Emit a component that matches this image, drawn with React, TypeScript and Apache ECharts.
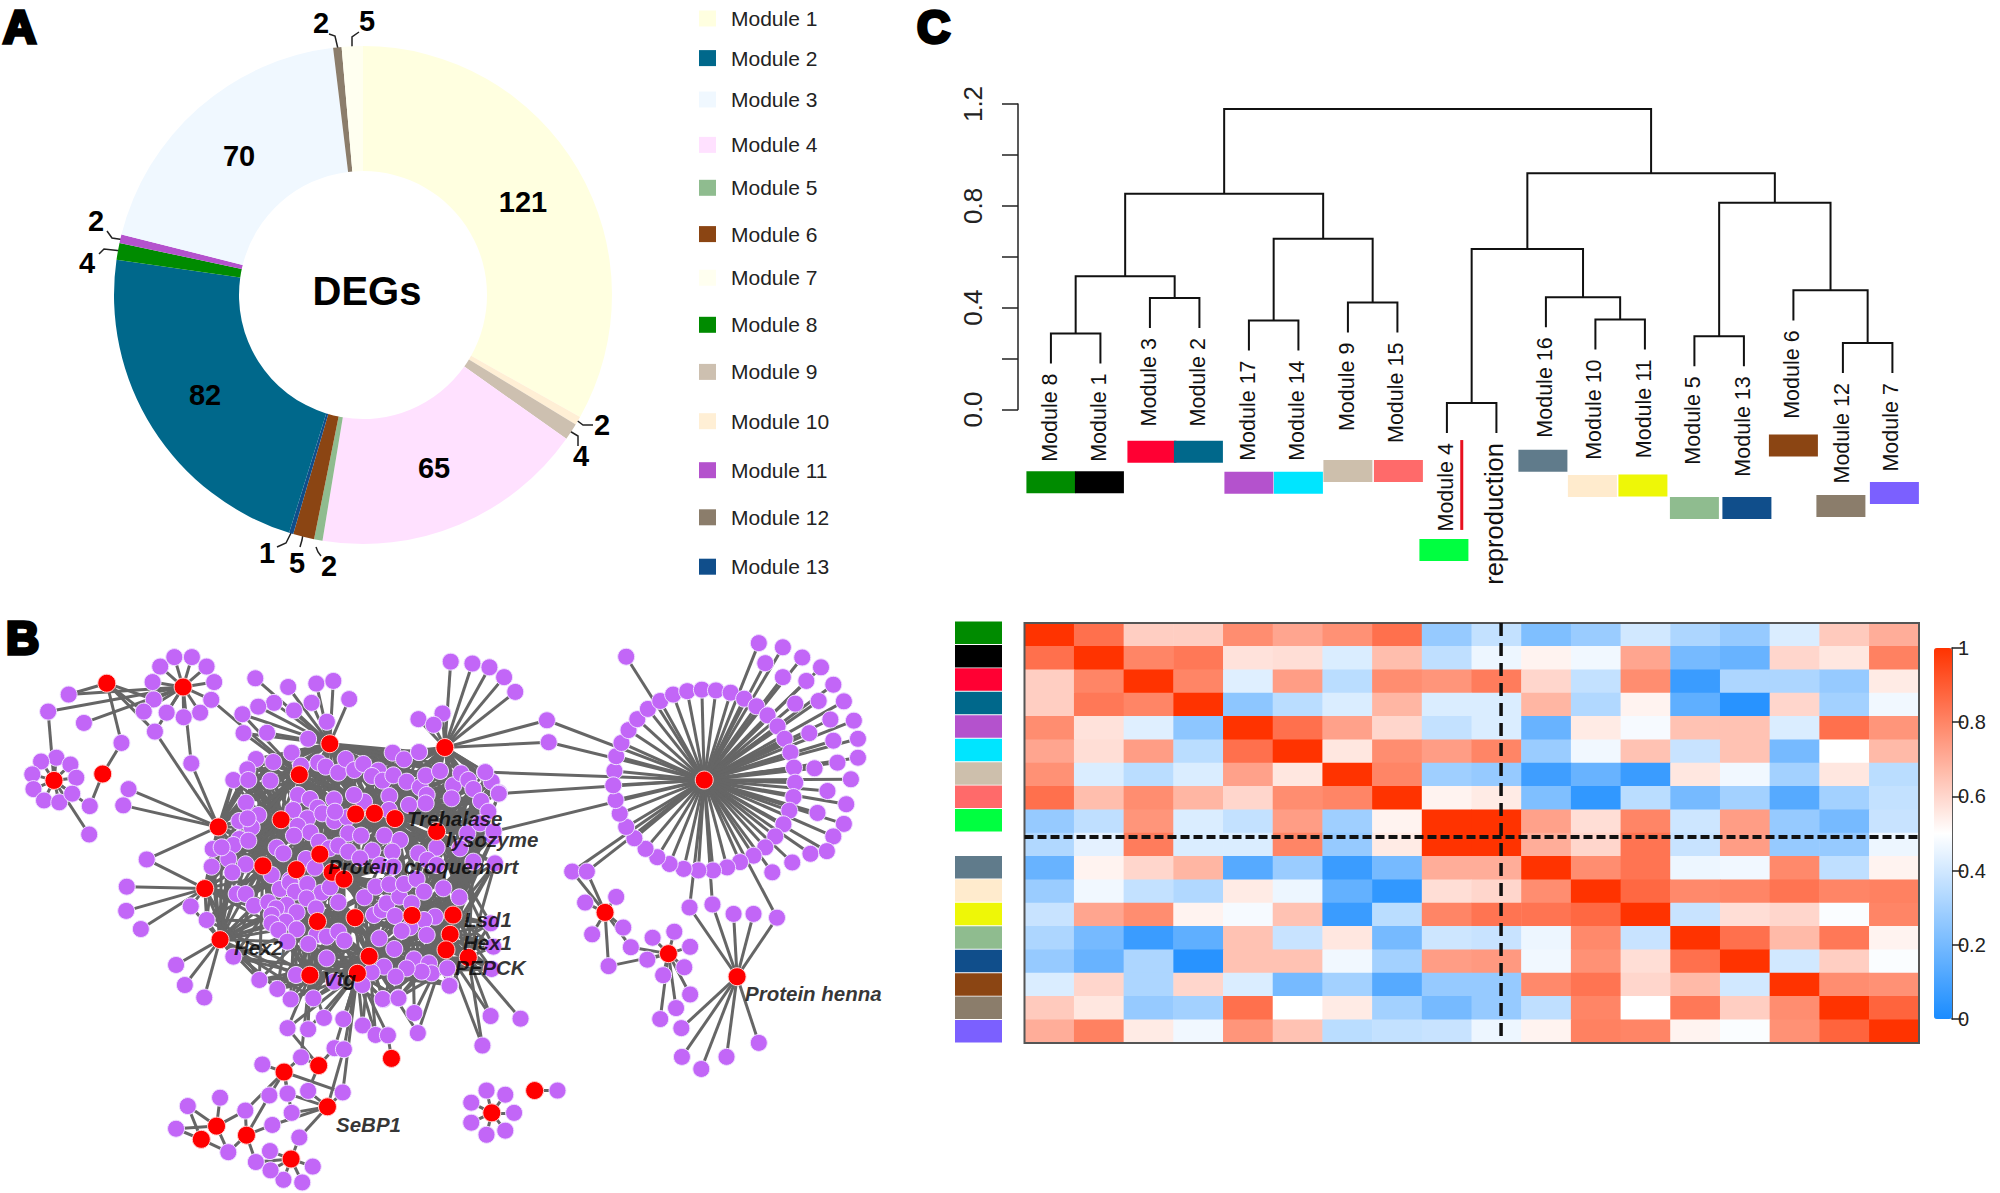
import React, { useEffect, useRef } from "react";
import * as echarts from "echarts";

const FONT = "'Liberation Sans', Arial, sans-serif";

// ---------- A: donut ----------
const pieModules = ["Module 1","Module 10","Module 9","Module 4","Module 5","Module 6","Module 13","Module 2","Module 8","Module 11","Module 3","Module 12","Module 7"];
const pieValues = [121,2,4,65,2,5,1,82,4,2,70,2,5];
const legendNames = ["Module 1","Module 2","Module 3","Module 4","Module 5","Module 6","Module 7","Module 8","Module 9","Module 10","Module 11","Module 12","Module 13"];
const legendColors = ["#FFFFE0","#00688B","#F0F8FF","#FFE1FF","#8FBC8F","#8B4513","#FFFFF0","#008B00","#CDC0B0","#FFEFD5","#B452CD","#8B7D6B","#104E8B"];
const legendCenters = [19,58.6,100,145.4,188.3,234.6,278.2,325.3,372.4,421.7,470.7,517.8,567.2];
// label anchor [x,y] and leader line per slice, in page pixels
const pieLabelAt = [[523,202],[602,425],[581,456],[434,468],[329,566],[297,563],[267,553],[205,395],[87,263],[96,221],[239,156],[321,23],[367,21]];
const pieLeaders: any[] = [null,[[575,419],[583,425],[593,425]],[[568,430],[578,436],[578,446]],null,[[316,547],[318,552],[321,556]],[[303,534],[302,540],[300,547]],[[291,533],[286,543],[277,547]],null,[[122,251],[104,249],[99,254]],[[125,240],[112,238],[107,231]],null,[[338,49],[335,36],[329,34]],[[352,50],[352,37],[359,32]]];

// ---------- B: network ----------
const hubs = [[92,477],[175,460],[182,220],[312,230],[372,600],[349,763],[375,898],[562,380],[758,390],[510,462],[479,581],[606,566],[638,564],[673,578],[744,612],[545,672],[448,703],[505,713],[566,720],[586,738],[541,850],[605,840],[702,834],[772,833],[767,884],[760,925],[798,945],[629,942],[609,987],[528,992],[667,1212],[543,1231],[484,1248],[558,1340],[369,1391],[343,1426],[420,1415],[496,1478],[838,1356],[911,1297],[1200,476],[1031,826],[1139,935],[1256,996]];
const clusterHubFirst = 4, clusterHubLast = 29;
const clusterTop = [[168,57],[220,66],[275,38],[303,77],[355,68],[377,80],[415,98],[437,57],[463,90],[490,72],[535,92],[516,108],[548,122],[578,38],[612,58],[657,36],[580,106],[620,125],[660,142],[677,107],[720,93],[760,136],[783,100],[805,120],[820,147],[855,97],[875,125],[897,158],[680,165],[755,175],[843,183],[865,215],[677,190],[627,195],[568,168],[567,210],[492,185],[462,165],[402,178],[294,165],[330,177],[353,203],[280,210],[138,188],[142,88],[100,120],[145,120],[211,122],[175,225],[118,243],[155,262],[143,235],[322,235],[293,258],[331,277],[282,287],[367,220],[403,243],[442,232],[405,215],[445,280],[483,287],[553,287],[600,300],[710,323],[802,280],[880,290],[840,250],[118,297],[100,315],[145,302],[38,327],[85,357],[137,373],[97,397],[35,380],[65,322],[230,323],[250,340],[318,357],[345,383],[357,305],[388,325],[415,317],[445,335],[517,332],[577,335],[655,340],[682,360],[710,375],[780,325],[820,365],[885,370],[480,355],[215,405],[270,420],[540,375],[580,380]];
const clusterBottom = [[110,72],[137,72],[162,107],[205,97],[240,57],[270,38],[285,65],[322,42],[365,68],[390,52],[320,85],[260,105],[228,115],[215,135],[290,127],[257,155],[215,160],[235,180],[290,178],[262,215],[348,115],[350,195],[380,200],[415,185],[433,212],[325,222],[380,265],[415,97],[493,82],[522,135],[545,120],[560,100],[585,138],[598,80],[635,100],[527,50],[568,43],[612,42],[650,27],[672,65],[730,55],[778,82],[705,140],[672,150],[630,172],[605,183],[680,195],[538,205],[583,237],[642,268],[687,280],[695,310],[665,305],[620,295],[552,290],[587,320],[515,307],[742,295],[750,345],[288,315],[20,150],[100,260],[178,330],[232,357],[272,388],[340,385],[487,345],[402,335],[550,388],[595,383],[872,160],[880,230],[875,297]];
// [x, y, ...hub indexes]
const outerLeaves = [
[96,417,0],[120,435,0],[70,427,0],[55,461,0],[130,470,0],[57,500,0],[75,530,0],[101,535,0],[123,512,0],[82,295,3,0],[117,250,2,3],[143,325,3],[207,378,2,1],[153,545,1,0],[152,620,0],
[273,176,3],[297,151,3],[327,151,3],[352,176,3],[365,217,3],[360,264,3,9],[341,298,3],[313,310,3],[284,298,3],[262,263,3,2],[260,217,3],[245,295,2,3],[264,348,3,4,2],[326,432,3,4],
[219,500,4],[210,543,4],[250,686,4,5],[216,758,5],[215,822,5],[240,870,5],[325,810,5,6],[300,965,6],[315,1018,6],[348,1051,6],
[435,207,7],[491,230,7],[539,221,7],[568,214,7],[595,262,7],[467,272,7],[531,272,7],[440,282,7],[501,292,7],[413,302,7,9],[557,322,7],[415,352,7,9],[455,351,7],[525,367,7],
[768,163,8],[805,168,8],[834,178,8],[859,204,8],[878,243,8],[713,315,8],[754,300,8],[739,330,8],[932,318,8,40],[935,376,8,40],[714,402,8],[827,455,8,40],[850,512,8,40],[841,612,14,40],
[836,1100,26,25],[887,1107,26],[822,1178,26,25],[766,1020,25,26],[652,1055,28,25],[679,1053,28,22],[706,1092,25,22],[712,1145,25,27],[552,1105,28,29],[585,1108,28,27],[525,1135,29,28],[618,1125,28,27],[490,1132,29,28,31],[640,1150,28,27],[661,1151,28,30],[570,1185,28,31],[586,1188,28,33],[513,1209,29,31,32],
[447,1228,32],[459,1310,32,36],[490,1305,32,33],[418,1350,32,34,36],[584,1302,32,33,28],[525,1298,33,31],[497,1356,33,32],[464,1388,33,36],[510,1421,33,37],[320,1338,34,35],[375,1316,34],[300,1398,34,35],[389,1460,34,36,35],[436,1486,36,37],[460,1457,37],[533,1498,37],[515,1540,37],[483,1533,37],[461,1508,37],
[829,1297,38],[861,1308,38],[876,1356,38],[861,1403,38],[829,1414,38],[803,1382,38],[803,1329,38],[950,1297,39],
[975,718,40,41],[1000,718,40,41],[997,800,41],[1050,785,41],[1009,884,41],[1062,866,41],[1075,918,41,42],[1037,968,41,42],[1112,893,42],[1149,877,42],[1176,917,42],[1103,951,42],[1166,971,42],[1130,992,42],[1176,1043,42],[1152,1079,42],[1125,1108,42],
[1175,813,40,43],[1214,805,40,43],[1250,830,43],[1284,830,43],[1324,840,43,40],[1161,1132,43],[1162,1208,43],[1195,1240,43],[1238,1208,43],[1293,1171,43]];
const ringLeaves = [[1047,452],[1050,413],[1059,378],[1071,344],[1086,315],[1104,288],[1125,267],[1147,250],[1171,241],[1196,237],[1220,239],[1245,245],[1268,261],[1289,281],[1308,305],[1325,334],[1337,367],[1347,403],[1353,443],[1355,483],[1352,521],[1345,557],[1335,593],[1321,625],[1304,654],[1284,676],[1261,693],[1239,707],[1215,715],[1190,715],[1165,711],[1141,698],[1120,680],[1100,658],[1081,630],[1067,600],[1056,565],[1049,529],[1045,490],
[1067,150],[1293,114],[1334,125],[1367,152],[1399,178],[1304,167],[1334,204],[1374,214],[1420,224],[1355,274],[1395,267],[1438,268],[1415,316],[1455,319],[1379,352],[1420,372],[1462,367],[1427,430],[1388,445],[1462,417],[1450,474],[1410,505],[1442,540],[1393,563],[1438,592],[1420,625],[1350,694],[1381,671],[1409,664],[1316,720]];
const ringHub = 40;
const networkLabels = [["Trehalase",407,818],["lysozyme",446,839],["Protein croquemort",328,866],["Lsd1",464,919],["Hex1",463,942],["PEPCK",455,967],["Hex2",234,947],["Vtg",323,978],["SeBP1",336,1124],["Protein henna",745,993]];
const overview = (p: number[]) => [p[0] / 1.704, 600 + p[1] / 2.644];

// ---------- C: dendrogram ----------
const leafNames = ["Module 8","Module 1","Module 3","Module 2","Module 17","Module 14","Module 9","Module 15","Module 4","reproduction","Module 16","Module 10","Module 11","Module 5","Module 13","Module 6","Module 12","Module 7"];
const leafColors = ["#008B00","#000000","#FF0033","#00688B","#B452CD","#00E5FF","#CDBFAC","#FF6A6A","#00FF40","#FFFFFF","#607B8B","#FFEBCD","#EEF707","#8FBC8F","#104E8B","#8B4513","#8B7D6B","#7B60FF"];
// [left, right, height]: a child >= 0 is a leaf, a child < 0 is merge ~child
const merges = [[0,1,.299],[2,3,.438],[~0,~1,.523],[4,5,.35],[6,7,.42],[~3,~4,.671],[~2,~5,.847],[8,9,.0255],[11,12,.354],[10,~8,.441],[~7,~9,.63],[13,14,.288],[16,17,.261],[15,~12,.468],[~11,~13,.812],[~10,~14,.928],[~6,~15,1.18]];
const leafHang = 0.118;
const swatchTops = [-.243,-.243,-.123,-.123,-.245,-.245,-.198,-.198,-.509,null,-.158,-.257,-.255,-.344,-.344,-.098,-.336,-.285];
const swatchShift = [0,-1,2,-1,0,0,0,1,-3,0,-3,-3,-2,0,3,0,-2,2];

// ---------- heat map ----------
const heatRows = [
[1,.85,.62,.62,.78,.72,.77,.85,.27,.37,.22,.28,.4,.32,.27,.42,.63,.7],
[.85,1,.8,.83,.57,.58,.42,.66,.36,.46,.53,.47,.72,.2,.17,.6,.56,.81],
[.62,.8,1,.8,.43,.74,.35,.78,.76,.82,.6,.37,.78,.07,.32,.32,.27,.55],
[.62,.83,.8,1,.25,.35,.42,.68,.42,.42,.68,.33,.53,.15,.03,.6,.3,.47],
[.78,.57,.43,.25,1,.85,.73,.6,.37,.42,.17,.55,.48,.65,.65,.42,.85,.76],
[.72,.58,.74,.35,.85,1,.56,.78,.74,.8,.28,.47,.65,.38,.65,.2,.5,.67],
[.77,.42,.35,.42,.73,.56,1,.8,.29,.27,.08,.17,.07,.56,.47,.3,.56,.35],
[.85,.66,.78,.68,.6,.78,.8,1,.53,.55,.22,.05,.35,.2,.3,.13,.3,.37],
[.27,.36,.76,.42,.37,.74,.29,.53,1,1,.73,.58,.8,.39,.74,.27,.2,.38],
[.33,.44,.82,.42,.42,.8,.27,.55,1,1,.7,.6,.84,.38,.74,.27,.27,.46],
[.17,.53,.6,.68,.13,.28,.07,.2,.7,.7,1,.78,.84,.46,.47,.79,.36,.53],
[.28,.47,.37,.33,.55,.46,.16,.05,.58,.6,.78,1,.87,.79,.8,.84,.8,.81],
[.38,.72,.78,.53,.48,.65,.07,.35,.8,.84,.84,.87,1,.38,.58,.6,.49,.8],
[.32,.2,.07,.15,.65,.38,.56,.2,.39,.38,.46,.79,.38,1,.85,.67,.83,.53],
[.27,.17,.32,.03,.65,.65,.47,.3,.74,.75,.47,.77,.58,.85,1,.4,.62,.49],
[.42,.6,.32,.6,.42,.2,.3,.13,.27,.27,.79,.84,.6,.67,.4,1,.78,.77],
[.63,.56,.27,.3,.85,.5,.55,.3,.2,.27,.36,.8,.5,.83,.62,.78,1,.88],
[.7,.81,.55,.47,.76,.65,.35,.37,.38,.46,.53,.81,.8,.53,.49,.77,.88,1]];
const heatColLine = 9.59, heatRowLine = 9.17;

function buildNetwork() {
  const hubPts = hubs.map(overview);
  const cluster = [
    ...clusterTop.map(([x, y]) => [200 + x / 3, 740 + y / 3]),
    ...clusterBottom.map(([x, y]) => [200 + x / 3, 870 + y / 3]),
  ];
  const nodes: any[] = [];
  const links: any[] = [];
  const total = cluster.length + outerLeaves.length + ringLeaves.length;
  const add = (p: number[], hubIdx: number[]) => {
    const id = nodes.length;
    nodes.push({ value: p, symbolSize: 17, itemStyle: { color: "#C266F7", borderColor: "#F0E0FF", borderWidth: 1 } });
    hubIdx.forEach((h) => links.push({ source: id, target: total + h }));
  };
  cluster.forEach((p) => {
    const near = [];
    for (let h = clusterHubFirst; h <= clusterHubLast; h++) near.push([Math.hypot(hubPts[h][0] - p[0], hubPts[h][1] - p[1]), h]);
    near.sort((a, b) => a[0] - b[0]);
    add(p, near.slice(0, 7).map((n) => n[1]));
  });
  outerLeaves.forEach((l) => add(overview(l), l.slice(2)));
  ringLeaves.forEach((l) => add(overview(l), [ringHub]));
  hubPts.forEach((p) => nodes.push({ value: p, symbolSize: 18, itemStyle: { color: "#FF0000", borderColor: "#FFD0D0", borderWidth: 1 } }));
  return { nodes, links };
}

function buildDendrogram() {
  const centers: number[] = [];
  const rows = merges.map((m, i) => {
    const [a, b, h] = m;
    const xa = a >= 0 ? a : centers[~a];
    const xb = b >= 0 ? b : centers[~b];
    const lowA = a >= 0 ? h - leafHang : merges[~a][2];
    const lowB = b >= 0 ? h - leafHang : merges[~b][2];
    centers[i] = (xa + xb) / 2;
    return [xa, lowA, xb, lowB, h];
  });
  const leafEnd: number[] = [];
  merges.forEach(([a, b, h]) => {
    if (a >= 0) leafEnd[a] = h - leafHang;
    if (b >= 0) leafEnd[b] = h - leafHang;
  });
  return { rows, leafEnd };
}

export default function App() {
  const ref = useRef<HTMLDivElement>(null);
  useEffect(() => {
    document.body.style.margin = "0";
    const chart = echarts.init(ref.current!, null, { renderer: "svg" });
    const net = buildNetwork();
    const den = buildDendrogram();
    const colorOf = (n: string) => legendColors[legendNames.indexOf(n)];
    const hidden = { show: false };
    const option: any = {
      animation: false,
      backgroundColor: "#fff",
      textStyle: { fontFamily: FONT },
      legend: legendNames.map((n, i) => ({
        data: [n], orient: "vertical", left: 699, top: legendCenters[i] - 11, padding: 0,
        itemWidth: 17, itemHeight: 16, icon: "rect", selectedMode: false,
        textStyle: { fontFamily: FONT, fontSize: 21, color: "#222", padding: [0, 0, 0, 10] },
      })),
      grid: [
        { left: 0, top: 600, width: 920, height: 593 },
        { left: 1018, top: 104, width: 874.4, height: 305.5 },
        { left: 1024.5, top: 623, width: 894.5, height: 420, show: true, borderColor: "#555", borderWidth: 2, backgroundColor: "transparent", z: 6 },
        { left: 955, top: 621, width: 47, height: 422 },
        { left: 1934, top: 648, width: 18, height: 371 },
      ],
      xAxis: [
        { gridIndex: 0, type: "value", min: 0, max: 920, ...hidden },
        { gridIndex: 1, type: "value", min: -0.665, max: 17, ...hidden },
        { gridIndex: 2, type: "category", data: leafNames, ...hidden },
        { gridIndex: 2, type: "value", min: 0, max: 18, ...hidden },
        { gridIndex: 3, type: "value", min: 0, max: 1, ...hidden },
        { gridIndex: 4, type: "value", min: 0, max: 1, ...hidden },
      ],
      yAxis: [
        { gridIndex: 0, type: "value", min: 600, max: 1193, inverse: true, ...hidden },
        {
          gridIndex: 1, type: "value", min: 0, max: 1.2, interval: 0.2, position: "left",
          axisLine: { show: true, onZero: false, lineStyle: { color: "#222", width: 1.5 } },
          axisTick: { show: true, length: 16, lineStyle: { color: "#222", width: 1.5 } },
          splitLine: { show: false },
          axisLabel: {
            rotate: 90, margin: 32, fontSize: 26, color: "#222", fontFamily: FONT,
            formatter: (v: number) => (Math.round(v * 10) % 4 === 0 ? v.toFixed(1) : ""),
          },
        },
        { gridIndex: 2, type: "category", inverse: true, data: leafNames, ...hidden },
        { gridIndex: 2, type: "value", inverse: true, min: 0, max: 18, ...hidden },
        { gridIndex: 3, type: "category", inverse: true, data: leafNames, ...hidden },
        {
          gridIndex: 4, type: "value", min: 0, max: 1, interval: 0.2, position: "right",
          axisLine: { show: true, onZero: false, lineStyle: { color: "#222", width: 1.5 } },
          axisTick: { show: true, length: 12, lineStyle: { color: "#222", width: 1.5 } },
          splitLine: { show: false },
          axisLabel: { margin: 6, fontSize: 20, color: "#222", fontFamily: FONT, formatter: (v: number) => String(Math.round(v * 10) / 10) },
        },
      ],
      visualMap: {
        type: "continuous", seriesIndex: 0, dimension: 2, min: 0, max: 1, left: 1934, top: 648, padding: 0,
        itemWidth: 18, itemHeight: 371, calculable: false, hoverLink: false, realtime: false,
        inRange: { color: ["#1A8CFF", "#FFFFFF", "#FF3300"] }, text: undefined, showLabel: false,
      },
      graphic: [
        ["A", 3, 4], ["B", 6, 615], ["C", 917, 4],
      ].map(([t, x, y]) => ({
        type: "text", x, y,
        style: { text: t, fontFamily: FONT, fontWeight: "bold", fontSize: 46, fill: "#000", stroke: "#000", lineWidth: 3.5, textVerticalAlign: "top" },
      })).concat([
        { type: "text", x: 367, y: 291, z: 20, style: { text: "DEGs", fontFamily: FONT, fontWeight: "bold", fontSize: 40, fill: "#000", textAlign: "center", textVerticalAlign: "middle" } } as any,
      ]),
      series: [
        {
          type: "heatmap", xAxisIndex: 2, yAxisIndex: 2, z: 2, progressive: 0,
          data: heatRows.flatMap((row, r) => row.map((v, c) => [c, r, v])),
        },
        {
          type: "line", xAxisIndex: 3, yAxisIndex: 3, z: 7, symbol: "none", clip: false, silent: true,
          data: [[heatColLine, 0], [heatColLine, 18]],
          lineStyle: { color: "#111", width: 3.5, type: [13, 7] },
        },
        {
          type: "line", xAxisIndex: 3, yAxisIndex: 3, z: 7, symbol: "none", clip: false, silent: true,
          data: [[0, heatRowLine], [18, heatRowLine]],
          lineStyle: { color: "#111", width: 4, type: [9, 4] },
        },
        {
          type: "bar", xAxisIndex: 4, yAxisIndex: 4, barWidth: "96%", silent: true,
          data: leafColors.map((c) => ({ value: 1, itemStyle: { color: c } })),
        },
        {
          type: "pie", center: [363, 295], radius: [124, 249], startAngle: 90, clockwise: true,
          avoidLabelOverlap: false, silent: true,
          data: pieModules.map((n, i) => ({
            name: n, value: pieValues[i], itemStyle: { color: colorOf(n) },
            labelLine: { show: !!pieLeaders[i] },
          })),
          label: { show: true, position: "outside", formatter: "{c}", fontFamily: FONT, fontWeight: "bold", fontSize: 29, color: "#000" },
          labelLine: { show: true, lineStyle: { color: "#222", width: 1.5 } },
          labelLayout: (p: any) => ({
            x: pieLabelAt[p.dataIndex][0], y: pieLabelAt[p.dataIndex][1], align: "center", verticalAlign: "middle",
            labelLinePoints: pieLeaders[p.dataIndex] || undefined,
          }),
        },
        {
          type: "graph", coordinateSystem: "cartesian2d", xAxisIndex: 0, yAxisIndex: 0, silent: true,
          data: net.nodes, links: net.links, symbol: "circle", edgeSymbol: ["none", "none"],
          lineStyle: { color: "#666", width: 3, opacity: 1, curveness: 0 }, label: { show: false },
        },
        {
          type: "scatter", xAxisIndex: 0, yAxisIndex: 0, symbolSize: 0, z: 5, silent: true,
          data: networkLabels.map(([t, x, y]) => ({ value: [x, y], name: t })),
          label: {
            show: true, position: "right", distance: 0, formatter: "{b}", fontFamily: FONT,
            fontStyle: "italic", fontWeight: "bold", fontSize: 20.5, color: "#000",
          },
        },
        {
          type: "custom", xAxisIndex: 1, yAxisIndex: 1, silent: true, clip: false,
          data: den.rows,
          renderItem: (_: any, api: any) => {
            const pts = [[api.value(0), api.value(1)], [api.value(0), api.value(4)], [api.value(2), api.value(4)], [api.value(2), api.value(3)]].map((q) => api.coord(q));
            return { type: "polyline", shape: { points: pts }, style: { stroke: "#111", lineWidth: 2, fill: "none" } };
          },
        },
        {
          type: "custom", xAxisIndex: 1, yAxisIndex: 1, silent: true, clip: false,
          data: leafNames.map((_, i) => [i, den.leafEnd[i]]),
          renderItem: (params: any, api: any) => {
            const i = params.dataIndex;
            const [x, y] = api.coord([api.value(0), api.value(1)]);
            const isRepro = leafNames[i] === "reproduction";
            const children: any[] = [{
              type: "text", x: x - (isRepro ? 2 : 1), y: y + 10, rotation: Math.PI / 2,
              style: { text: leafNames[i], fontFamily: FONT, fontSize: isRepro ? 25.5 : 21.5, fill: "#111", textAlign: "right", textVerticalAlign: "middle" },
            }];
            if (swatchTops[i] !== null) {
              const top = api.coord([api.value(0), swatchTops[i]])[1];
              children.push({ type: "rect", shape: { x: x - 24.5 + swatchShift[i], y: top, width: 49, height: 22 }, style: { fill: leafColors[i] } });
            }
            return { type: "group", children };
          },
        },
        {
          type: "line", xAxisIndex: 1, yAxisIndex: 1, symbol: "none", clip: false, silent: true,
          data: [[8.3, -0.12], [8.3, -0.473]],
          lineStyle: { color: "#E8101F", width: 3 },
        },
      ],
    };
    chart.setOption(option);
    return () => chart.dispose();
  }, []);
  return <div ref={ref} style={{ position: "absolute", left: 0, top: 0, width: 2000, height: 1193 }} />;
}
